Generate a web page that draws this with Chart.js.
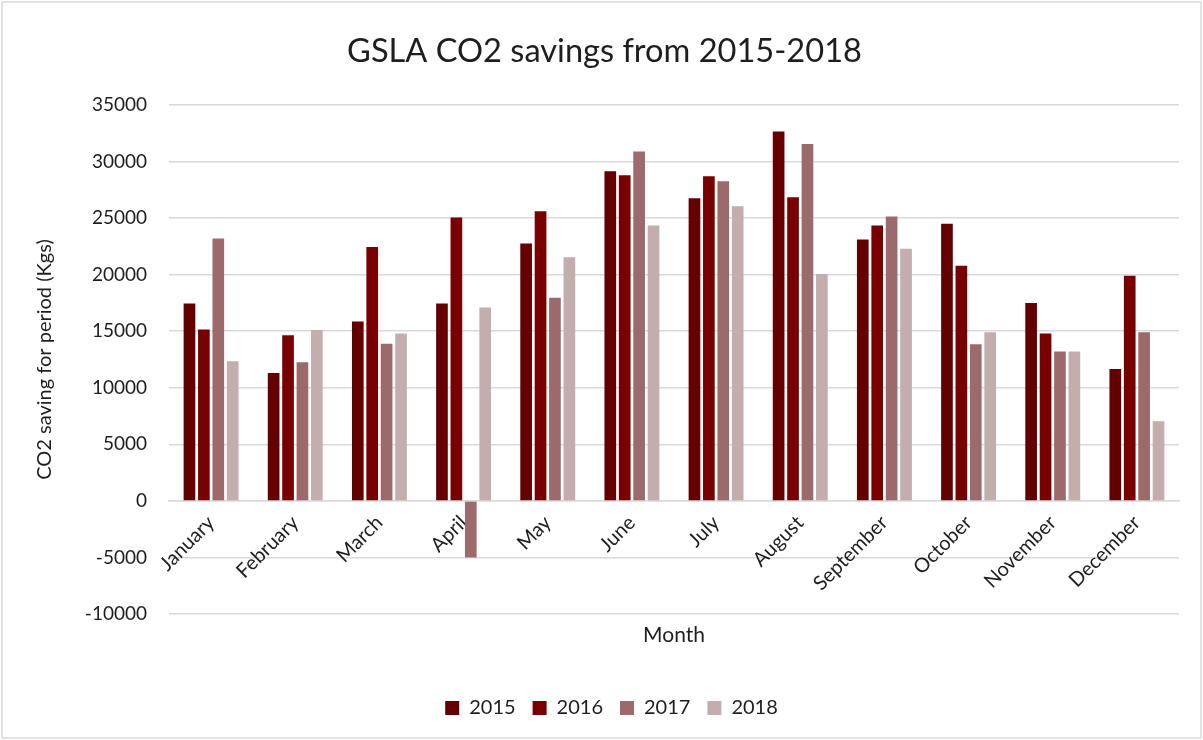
<!DOCTYPE html>
<html>
<head>
<meta charset="utf-8">
<script src="https://cdn.jsdelivr.net/npm/chart.js@4/dist/chart.umd.min.js"></script>
<style>
  html, body { margin: 0; padding: 0; background: #fff; }
  #wrap { width: 1203px; height: 740px; }
</style>
</head>
<body>
<div id="wrap"><canvas id="co2Chart" width="1203" height="740"></canvas></div>
<script>
// Monthly CO2 savings (kg) per year
var months = ["January", "February", "March", "April", "May", "June",
              "July", "August", "September", "October", "November", "December"];
var years = ["2015", "2016", "2017", "2018"];
var savings2015 = [17450, 11300, 15850, 17450, 22750, 29150, 26750, 32650, 23100, 24500, 17500, 11650];
var savings2016 = [15150, 14650, 22450, 25050, 25600, 28800, 28700, 26850, 24350, 20800, 14800, 19900];
var savings2017 = [23200, 12250, 13900, -5000, 17950, 30900, 28250, 31550, 25150, 13850, 13200, 14900];
var savings2018 = [12350, 15100, 14800, 17100, 21550, 24350, 26050, 20050, 22300, 14900, 13200, 7050];
var yTicks = [-10000, -5000, 0, 5000, 10000, 15000, 20000, 25000, 30000, 35000];

var seriesValues = [savings2015, savings2016, savings2017, savings2018];
var seriesColors = ["#640000", "#780000", "#9c6a6a", "#c4adad"];

var fontFamily = "Lato, 'Open Sans', sans-serif";
var textColor = "#1e1e1e";
var gridColor = "#d9d9d9";

// white background plus the thin frame round the whole chart
var framePlugin = {
  id: "frame",
  beforeDraw: function(chart) {
    var ctx = chart.ctx;
    ctx.save();
    ctx.fillStyle = "#ffffff";
    ctx.fillRect(0, 0, chart.width, chart.height);
    ctx.strokeStyle = "#d9d9d9";
    ctx.lineWidth = 1.5;
    ctx.strokeRect(2, 2, chart.width - 4, chart.height - 4);
    ctx.restore();
  }
};

// nudge title and legend a little to the right of the canvas centre
var blockShift = {
  id: "blockShift",
  afterLayout: function(chart) {
    if (chart.legend) {
      chart.legend.left += 17;
      chart.legend.right += 17;
    }
    if (chart.titleBlock) {
      chart.titleBlock.left += 10;
      chart.titleBlock.right += 10;
    }
  }
};

var datasets = [];
for (var i = 0; i < years.length; i++) {
  datasets.push({
    label: years[i],
    data: seriesValues[i],
    backgroundColor: seriesColors[i],
    borderWidth: 0,
    categoryPercentage: 0.685,
    barPercentage: 0.81
  });
}

var ctx = document.getElementById("co2Chart").getContext("2d");
var chart = new Chart(ctx, {
  type: "bar",
  data: { labels: months, datasets: datasets },
  plugins: [framePlugin, blockShift],
  options: {
    responsive: false,
    animation: false,
    layout: { padding: { left: 10, right: 24, top: 0, bottom: 12 } },
    plugins: {
      title: {
        display: true,
        text: "GSLA CO2 savings from 2015-2018",
        color: textColor,
        font: { family: fontFamily, size: 32.6, weight: "normal", lineHeight: 1.2 },
        padding: { top: 32, bottom: 33.9 }
      },
      legend: {
        position: "bottom",
        labels: {
          color: textColor,
          font: { family: fontFamily, size: 20 },
          boxWidth: 14,
          boxHeight: 14,
          padding: 17
        }
      },
      tooltip: { enabled: false }
    },
    scales: {
      x: {
        position: { y: 0 },
        grid: { display: false },
        border: { display: true, color: gridColor, width: 1.5 },
        ticks: {
          color: textColor,
          font: { family: fontFamily, size: 20 },
          minRotation: 45,
          maxRotation: 45,
          autoSkip: false,
          padding: 2
        }
      },
      // bottom axis that only carries the "Month" title
      xTitle: {
        type: "category",
        labels: months,
        position: "bottom",
        grid: { display: false },
        border: { display: false },
        ticks: { display: false },
        title: {
          display: true,
          text: "Month",
          color: textColor,
          font: { family: fontFamily, size: 21 },
          padding: { top: 0, bottom: 33.4 }
        },
        afterFit: function(scale) { scale.height = 67; }
      },
      y: {
        min: -10000,
        max: 35000,
        afterBuildTicks: function(scale) {
          scale.ticks = yTicks.map(function(v) { return { value: v }; });
        },
        grid: { color: gridColor, lineWidth: 1.5, drawTicks: false },
        border: { display: false },
        ticks: {
          color: textColor,
          font: { family: fontFamily, size: 19 },
          padding: 22,
          callback: function(value) { return String(value); }
        },
        title: {
          display: true,
          text: "CO2 saving for period (Kgs)",
          color: textColor,
          font: { family: fontFamily, size: 20 },
          padding: { top: 23, bottom: 8 }
        },
        afterFit: function(scale) { scale.width = 159; }
      }
    }
  }
});
</script>
</body>
</html>
